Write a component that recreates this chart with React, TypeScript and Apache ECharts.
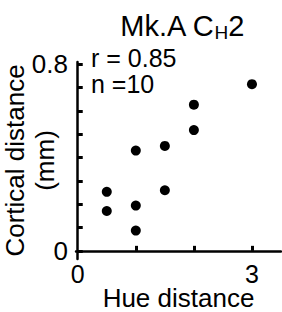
import React, { useEffect, useRef } from "react";
import * as echarts from "echarts";

const hueDistance = [0.5, 0.5, 1, 1, 1, 1.5, 1.5, 2, 2, 3];
const corticalDistance = [0.171, 0.253, 0.087, 0.194, 0.43, 0.26, 0.45, 0.518, 0.627, 0.715];
const yTickValues = [0, 0.1, 0.2, 0.3, 0.4, 0.5, 0.6, 0.7, 0.8];
const yLabelValues = [0, 0.8];
const xTickValues = [1, 2, 3];
const xLabelValues = [0, 3];
const statLines = ["r = 0.85", "n =10"];

const FONT = "'Liberation Sans', Arial, Helvetica, sans-serif";

export default function App() {
  const ref = useRef<HTMLDivElement>(null);
  useEffect(() => {
    if (!ref.current) return;
    const chart = echarts.init(ref.current, null, { renderer: "svg" });
    const data = hueDistance.map((x, i) => [x, corticalDistance[i]]);
    chart.setOption({
      animation: false,
      backgroundColor: "#fff",
      textStyle: { fontFamily: FONT, color: "#000" },
      title: {
        text: "{a|Mk.A C}{s|H}{a|2}",
        left: 177,
        top: 4,
        textAlign: "center",
        textStyle: {
          fontWeight: "normal",
          rich: {
            a: { fontSize: 29, fontFamily: FONT, fontWeight: "normal", color: "#000", lineHeight: 33 },
            s: { fontSize: 19, fontFamily: FONT, fontWeight: "normal", color: "#000", lineHeight: 33, padding: [13, 0, 0, 0], verticalAlign: "bottom" },
          },
        },
      },
      graphic: statLines.map((t, i) => ({
        type: "text",
        left: 91,
        top: 45 + i * 26,
        style: { text: t, fontSize: 25, fontFamily: FONT, fill: "#000" },
      })),
      grid: { left: 76, right: 1, top: 62, bottom: 53, outerBoundsMode: "none", containLabel: false },
      xAxis: {
        type: "value",
        min: -0.03,
        max: 3.5,
        name: "Hue distance",
        nameLocation: "middle",
        nameGap: 26,
        nameMoveOverlap: false,
        nameTextStyle: { fontSize: 26, fontFamily: FONT, color: "#000" },
        splitLine: { show: false },
        axisLine: { lineStyle: { color: "#000", width: 2.5 } },
        axisTick: { inside: true, length: 5, lineStyle: { color: "#000", width: 3 }, customValues: xTickValues },
        axisLabel: { customValues: xLabelValues, fontSize: 25, fontFamily: FONT, color: "#000", margin: 2 },
      },
      yAxis: {
        type: "value",
        min: -0.035,
        max: 0.81,
        name: "Cortical distance\n(mm)",
        nameLocation: "middle",
        nameRotate: 90,
        nameGap: 16,
        nameMoveOverlap: false,
        nameTextStyle: { fontSize: 26, fontFamily: FONT, color: "#000", lineHeight: 30 },
        splitLine: { show: false },
        axisLine: { lineStyle: { color: "#000", width: 2.5 } },
        axisTick: { inside: true, length: 5, lineStyle: { color: "#000", width: 3 }, customValues: yTickValues },
        axisLabel: { customValues: yLabelValues, fontSize: 26, fontFamily: FONT, color: "#000", margin: 8 },
      },
      series: [
        {
          type: "scatter",
          data,
          symbol: "circle",
          symbolSize: 10,
          itemStyle: { color: "#000", opacity: 1 },
        },
      ],
    });
    return () => chart.dispose();
  }, []);
  return <div ref={ref} style={{ width: 282, height: 312, position: "absolute", left: 0, top: 0 }} />;
}
